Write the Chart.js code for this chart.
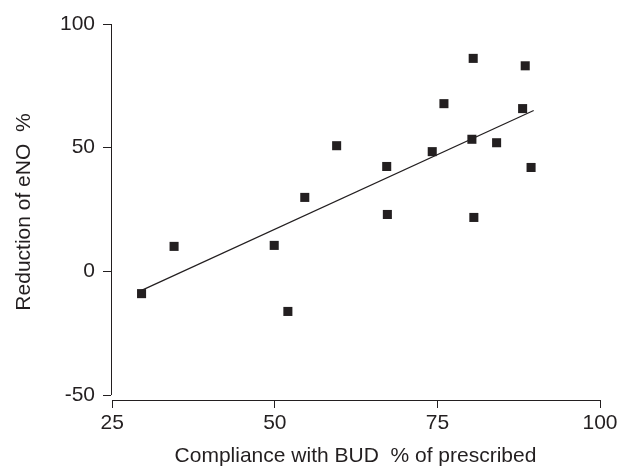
<!DOCTYPE html>
<html>
<head>
<meta charset="utf-8">
<script src="https://cdn.jsdelivr.net/npm/chart.js@4.4.0/dist/chart.umd.min.js"></script>
<style>
  html, body { margin: 0; padding: 0; background: #fff; }
  #wrap { width: 619px; height: 468px; }
</style>
</head>
<body>
<div id="wrap"><canvas id="scatter"></canvas></div>
<script>
// compliance (% of prescribed) vs reduction of eNO (%)
const compliance = [80.5, 88.5, 76.0, 88.1, 80.3, 84.1, 59.5, 74.2, 67.2, 89.4, 54.6, 67.3, 80.6, 34.5, 49.9, 29.5, 52.0];
const reduction  = [86.1, 83.1, 67.8, 65.8, 53.4, 52.0, 50.8, 48.4, 42.4, 42.0, 29.9, 23.0, 21.8, 10.1, 10.5, -9.0, -16.2];
const fitX = [29.5, 89.8];
const fitY = [-7.7, 65.0];
const xTicks = [25, 50, 75, 100];
const yTicks = [-50, 0, 50, 100];

const ink = '#231f20';
const font = '"Liberation Sans", Arial, sans-serif';

const points = compliance.map((x, i) => ({ x: x, y: reduction[i] }));
const fit = fitX.map((x, i) => ({ x: x, y: fitY[i] }));

// R-style detached axis lines
const axisLines = {
  id: 'axisLines',
  afterDraw(chart) {
    const c = chart.ctx, xs = chart.scales.x, ys = chart.scales.y;
    c.save();
    c.strokeStyle = ink;
    c.lineWidth = 1;
    c.beginPath();
    const ax = Math.round(xs.left) + 0.5;
    c.moveTo(ax, ys.getPixelForValue(100));
    c.lineTo(ax, ys.getPixelForValue(-50));
    const ay = Math.round(ys.bottom) + 0.5;
    c.moveTo(xs.getPixelForValue(25), ay);
    c.lineTo(xs.getPixelForValue(100), ay);
    c.stroke();
    c.restore();
  }
};

const ctx = document.getElementById('scatter').getContext('2d');
const chart = new Chart(ctx, {
  type: 'scatter',
  data: {
    datasets: [{
      data: points,
      pointStyle: 'rect',
      pointRadius: 6.4,
      pointHoverRadius: 6.4,
      backgroundColor: ink,
      borderColor: ink,
      borderWidth: 0
    }, {
      data: fit,
      showLine: true,
      pointRadius: 0,
      borderColor: ink,
      borderWidth: 1.2,
      fill: false
    }]
  },
  options: {
    responsive: true,
    maintainAspectRatio: false,
    animation: false,
    layout: { padding: { top: 24, right: 19, left: 0, bottom: 0 } },
    plugins: { legend: { display: false }, tooltip: { enabled: false } },
    scales: {
      x: {
        type: 'linear',
        min: 24.8,
        max: 100,
        afterBuildTicks: s => { s.ticks = xTicks.map(v => ({ value: v })); },
        afterFit: s => { s.height = 68; s.paddingRight = 0; s.paddingLeft = 0; },
        border: { display: false },
        grid: { drawOnChartArea: false, drawTicks: true, tickLength: 8, color: ink },
        ticks: { color: ink, font: { family: font, size: 21 }, padding: 3, maxRotation: 0 },
        title: { display: true, text: 'Compliance with BUD  % of prescribed', color: ink,
                 font: { family: font, size: 21, lineHeight: 1 }, padding: { top: 0, bottom: 1 } }
      },
      y: {
        type: 'linear',
        min: -52,
        max: 100,
        afterBuildTicks: s => { s.ticks = yTicks.map(v => ({ value: v })); },
        afterFit: s => { s.width = 111; },
        border: { display: false },
        grid: { drawOnChartArea: false, drawTicks: true, tickLength: 8, color: ink },
        ticks: { color: ink, font: { family: font, size: 21 }, padding: 8 },
        title: { display: true, text: 'Reduction of eNO  %', color: ink,
                 font: { family: font, size: 21, lineHeight: 1 }, padding: { top: 13.5, bottom: 0 } }
      }
    }
  },
  plugins: [axisLines]
});
</script>
</body>
</html>
